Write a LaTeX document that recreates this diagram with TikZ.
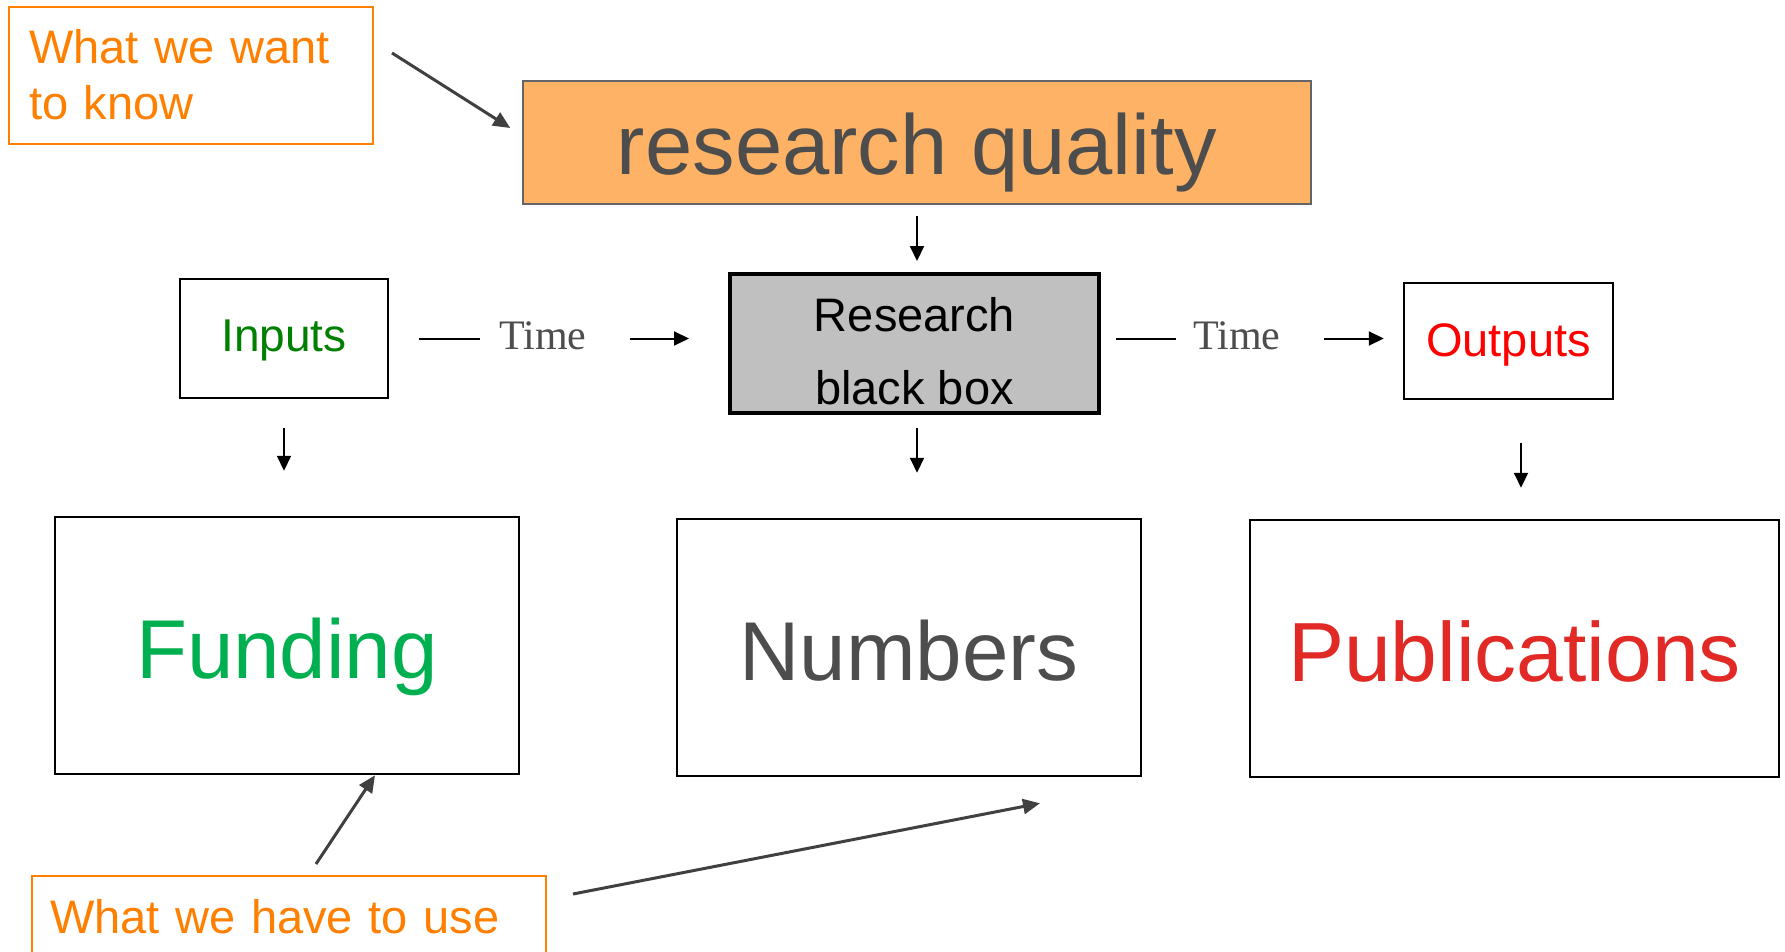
\documentclass[tikz,border=0pt]{standalone}
\usepackage{fontspec}
\setmainfont{Liberation Sans}
\newfontfamily\timesfont{Liberation Serif}
\usetikzlibrary{arrows.meta}
\definecolor{orng}{RGB}{255,128,0}
\definecolor{rqfill}{RGB}{253,178,102}
\definecolor{rqline}{RGB}{100,100,100}
\definecolor{dgray}{RGB}{77,77,77}
\definecolor{agray}{RGB}{64,64,64}
\definecolor{bbfill}{RGB}{192,192,192}
\definecolor{ingreen}{RGB}{0,128,0}
\definecolor{fgreen}{RGB}{0,176,80}
\definecolor{pubred}{RGB}{225,42,38}
\begin{document}
\begin{tikzpicture}[x=1pt,y=-1pt,
  box/.style={draw=black, line width=2.5pt, inner sep=0pt, text depth=0pt},
  note/.style={draw=orng, line width=2pt, text=orng, inner ysep=0pt, align=left,
    font=\fontsize{47}{56}\selectfont},
  blk/.style={-{Triangle[length=15pt,width=14pt]}, line width=2pt, black},
  gry/.style={-{Triangle[length=17pt,width=15pt]}, line width=3pt, agray},
  plainline/.style={line width=2pt, black},
  timel/.style={font=\timesfont\fontsize{42}{42}\selectfont, text=dgray, inner sep=0pt, anchor=base},
]
\path[use as bounding box, clip] (0,0) rectangle (1785,952);
\fill[white] (0,0) rectangle (1785,952);

\node[note, minimum width=364pt, minimum height=137pt, text width=324pt, inner xsep=20pt,
  text height=34pt, text depth=57pt] (want) at (191,75.5) {What we want\\to know};

\node[draw=rqline, line width=1.5pt, fill=rqfill, minimum width=788pt, minimum height=123pt,
  inner sep=0pt, text=dgray, font=\fontsize{85}{85}\selectfont, text height=65pt, text depth=0pt]
  (rq) at (917,142.5) {research quality};

\node[draw=black, line width=4pt, fill=bbfill, minimum width=369pt, minimum height=139pt,
  inner sep=0pt, align=center, font=\fontsize{47}{73}\selectfont, text height=121pt, text depth=0pt]
  (bb) at (914.5,343.5) {Research\\black box};

\node[box, minimum width=208pt, minimum height=119pt, text=ingreen,
  font=\fontsize{46}{46}\selectfont, text height=25pt] (inputs) at (284,338.5) {Inputs};
\node[box, minimum width=209pt, minimum height=116pt, text=red,
  font=\fontsize{47}{47}\selectfont, text height=30pt] (outputs) at (1508.5,341) {Outputs};

\node[box, minimum width=464pt, minimum height=257pt, text=fgreen,
  font=\fontsize{83.5}{83.5}\selectfont, text height=65pt] (fund) at (287,645.5) {Funding};
\node[box, minimum width=464pt, minimum height=257pt, text=dgray,
  font=\fontsize{83.5}{83.5}\selectfont, text height=65pt] (num) at (909,647.5) {Numbers};
\node[box, minimum width=529pt, minimum height=257pt, text=pubred,
  font=\fontsize{84}{84}\selectfont, text height=65pt] (pub) at (1514.5,648.5) {Publications};

\node[note, minimum width=514pt, minimum height=84pt, text width=478pt, inner xsep=18pt,
  text height=30pt, text depth=0pt] (use) at (289,918) {What we have to use};

\node[timel] (t1) at (543,349) {Time};
\node[timel] (t2) at (1237,349) {Time};

% connectors
\draw[gry] ([xshift=18pt,yshift=22.5pt]want.east) -- ([xshift=-12pt,yshift=14.5pt]rq.west);
\draw[blk] ([yshift=-11pt]rq.south) -- ([yshift=11pt]rq.south |- bb.north);

\draw[plainline] ([xshift=30pt]inputs.east) -- ++(61,0);
\draw[blk] ([xshift=-98pt]bb.west |- inputs.east) -- ([xshift=-39pt]bb.west |- inputs.east);
\draw[plainline] ([xshift=15pt]bb.east |- inputs.east) -- ++(60,0);
\draw[blk] ([xshift=-79pt]outputs.west |- inputs.east) -- ([xshift=-19pt]outputs.west |- inputs.east);

\draw[blk] ([yshift=-29pt]inputs.south) -- ([yshift=45pt]inputs.south |- fund.north);
\draw[blk] ([yshift=-13pt]rq.south |- bb.south) -- ([yshift=45pt]rq.south |- num.north);
\draw[blk] ([xshift=12.5pt,yshift=-43pt]outputs.south) -- ([xshift=12.5pt,yshift=31pt]outputs.south |- pub.north);

\draw[gry] ([xshift=285pt,yshift=11pt]use.north west) -- ([xshift=88pt]fund.south);
\draw[gry] ([xshift=26pt,yshift=24pt]use.east) -- ([xshift=131pt,yshift=-26pt]num.south);
\end{tikzpicture}
\end{document}
